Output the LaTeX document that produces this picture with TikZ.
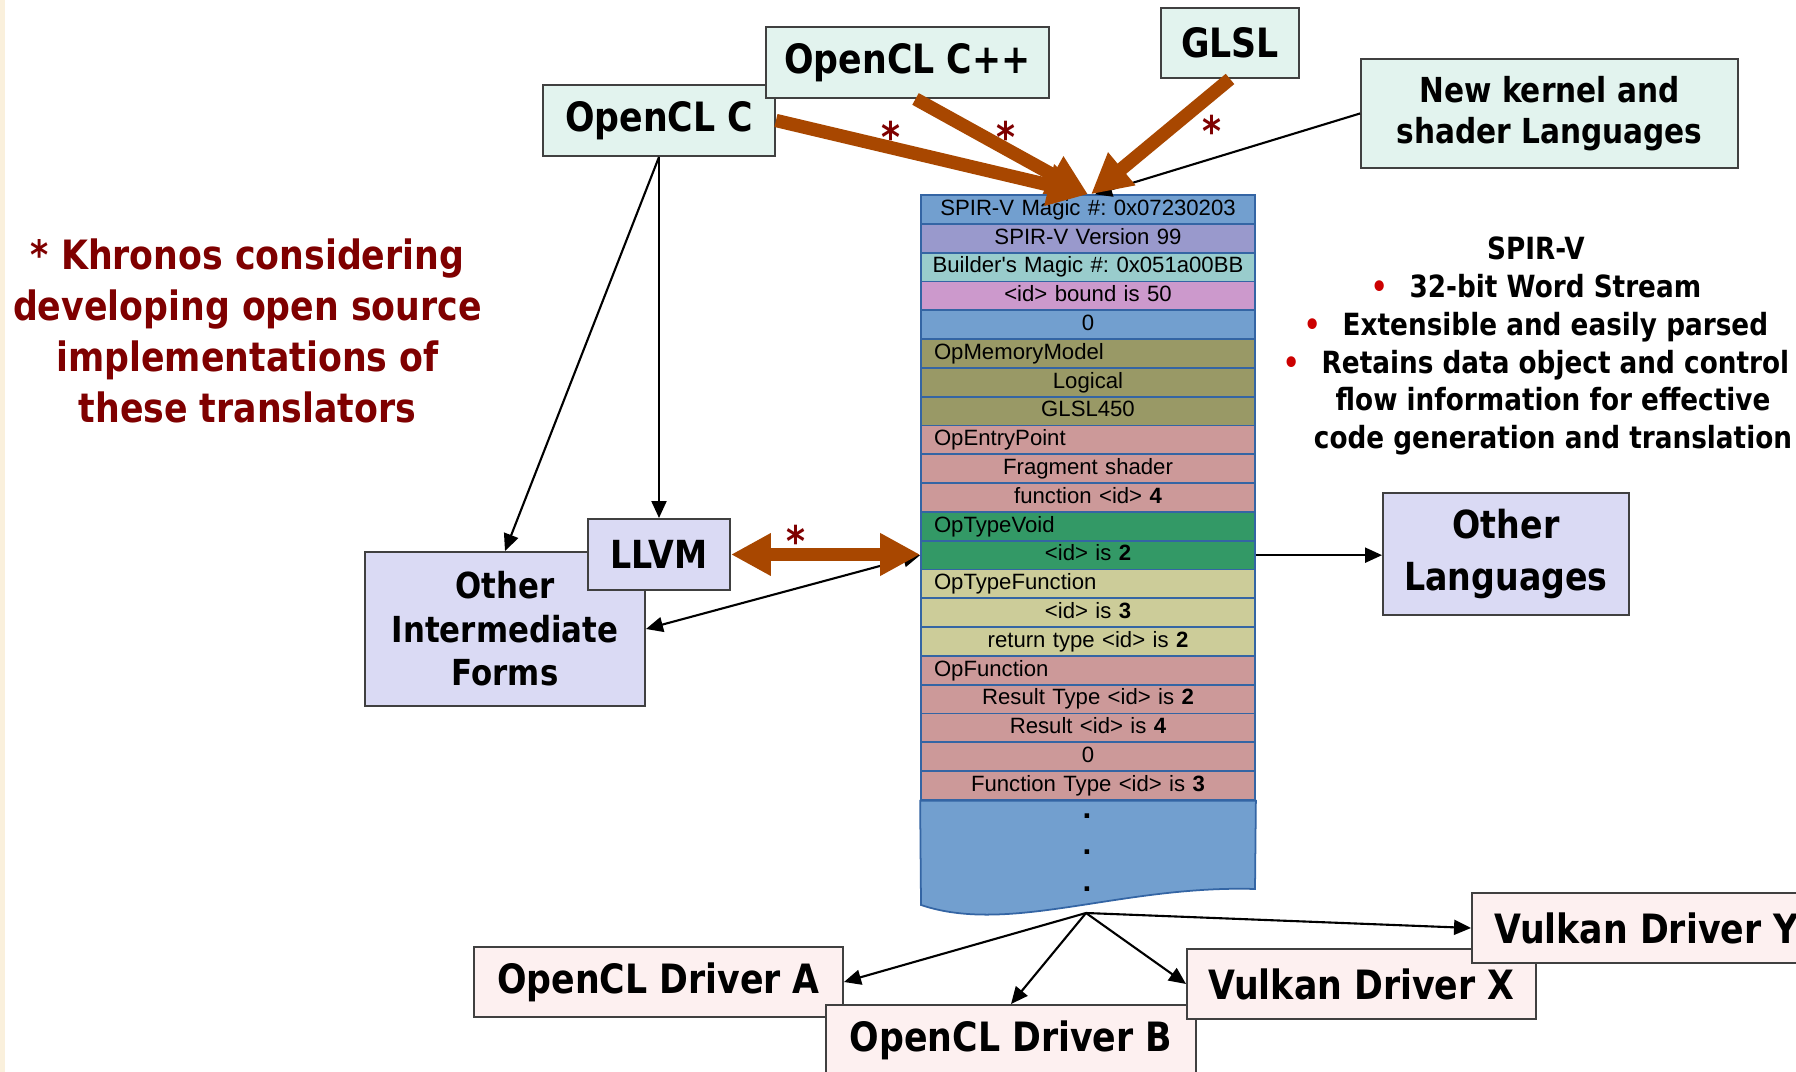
\documentclass[tikz,border=0pt]{standalone}
\usepackage{fontspec}
\setmainfont{DejaVu Sans}[FakeStretch=0.86]
\newfontfamily\tabfont{Liberation Sans}
\usetikzlibrary{arrows.meta, positioning, calc}
\definecolor{spirblue}{HTML}{729FCF}
\definecolor{spirpurple}{HTML}{9999CC}
\definecolor{spirteal}{HTML}{99CCCC}
\definecolor{spirpink}{HTML}{CC99CC}
\definecolor{spirolive}{HTML}{999966}
\definecolor{spirrose}{HTML}{CC9999}
\definecolor{spirgreen}{HTML}{339966}
\definecolor{spirkhaki}{HTML}{CCCC99}
\definecolor{spirline}{HTML}{3465A4}
\definecolor{langfill}{HTML}{E2F3EE}
\definecolor{irfill}{HTML}{DADAF4}
\definecolor{drvfill}{HTML}{FDF0F0}
\definecolor{boxline}{HTML}{404040}
\definecolor{kharrow}{HTML}{A84700}
\definecolor{khred}{HTML}{7F0000}
\definecolor{bulletred}{HTML}{CC0000}
\definecolor{stripcream}{HTML}{FAF0DC}
\newcommand{\bulletmark}{\textcolor{bulletred}{\textbullet}\hspace{0.22cm}}
\newcommand{\leftcell}[1]{\makebox[3.26cm][l]{\hspace*{0.09cm}#1}}

\begin{document}
\begin{tikzpicture}[
    >=Stealth,
    box/.style={
        draw=boxline, line width=0.55pt, minimum height=0.71cm,
        inner sep=0pt, align=center,
        font=\bfseries\fontsize{11.5}{14}\selectfont
    },
    langbox/.style={box, fill=langfill},
    irbox/.style={box, fill=irfill},
    drvbox/.style={box, fill=drvfill, minimum height=0.70cm},
    tabrow/.style={
        rectangle, draw=spirline, line width=0.5pt, anchor=north,
        text width=3.26cm, inner xsep=0.04cm, inner ysep=0pt,
        text height=0.16cm, text depth=0.045cm,
        minimum height=0.288cm, align=center,
        font=\tabfont\fontsize{6.3}{7.5}\selectfont\frenchspacing
    },
    dotmark/.style={font=\tabfont\bfseries\fontsize{9}{9}\selectfont, anchor=base, inner sep=0pt},
    thickarrow/.style={-{Triangle[length=4mm, width=4mm]}, line width=3.8pt, draw=kharrow},
    thinarrow/.style={-{Triangle[length=1.7mm, width=1.5mm]}, line width=0.6pt},
    starmark/.style={font=\bfseries\fontsize{12}{12}\selectfont, text=khred, anchor=base, inner sep=0pt},
    annotation/.style={align=center, inner sep=0pt},
]

\useasboundingbox (0,0) rectangle (17.96,-10.72);
\fill[white] (0,0) rectangle (17.96,-10.72);
\fill[stripcream] (0,0) rectangle (0.05,-10.72);

% ===================================================================
% SPIR-V WORD STREAM
% ===================================================================
\foreach \fc/\txt [count=\i] in {
    spirblue/{SPIR-V Magic \#: 0x07230203},
    spirpurple/{SPIR-V Version 99},
    spirteal/{Builder's Magic \#: 0x051a00BB},
    spirpink/{<id> bound is 50},
    spirblue/{0},
    spirolive/{\leftcell{OpMemoryModel}},
    spirolive/{Logical},
    spirolive/{GLSL450},
    spirrose/{\leftcell{OpEntryPoint}},
    spirrose/{Fragment shader},
    spirrose/{function <id> \textbf{4}},
    spirgreen/{\leftcell{OpTypeVoid}},
    spirgreen/{<id> is \textbf{2}},
    spirkhaki/{\leftcell{OpTypeFunction}},
    spirkhaki/{<id> is \textbf{3}},
    spirkhaki/{return type <id> is \textbf{2}},
    spirrose/{\leftcell{OpFunction}},
    spirrose/{Result Type <id> is \textbf{2}},
    spirrose/{Result <id> is \textbf{4}},
    spirrose/{0},
    spirrose/{Function Type <id> is \textbf{3}}}
    \node[tabrow, fill=\fc] (r\i) at (10.88, {-1.943-0.288*(\i-1)}) {\txt};

% Tail of the stream (document shape)
\filldraw[fill=spirblue, draw=spirline, line width=0.5pt]
    (r21.south west) -- (9.21,-9.05)
    .. controls (10.10,-9.35) and (11.20,-8.85) .. (12.55,-8.89)
    -- (r21.south east) -- cycle;
\foreach \y in {-8.18,-8.54,-8.92}
    \node[dotmark] at (10.87,\y) {.};
\coordinate (tailtip) at (10.86,-9.13);

% ===================================================================
% SOURCE LANGUAGES
% ===================================================================
\node[langbox, minimum width=2.32cm] (oclc) at (6.59,-1.205) {OpenCL C};
\node[langbox, minimum width=2.83cm] (oclcpp) at (9.075,-0.625) {OpenCL C++};
\node[langbox, minimum width=1.38cm, minimum height=0.70cm] (glsl) at (12.30,-0.43) {GLSL};
\node[langbox, minimum width=3.77cm, minimum height=1.09cm,
      font=\bfseries\fontsize{9.8}{11.8}\selectfont] (newlang) at (15.495,-1.135)
    {New kernel and\\shader Languages};

% Translators into SPIR-V
\draw[thinarrow] (newlang.west) -- ([xshift=0.07cm]r1.north);
\draw[thickarrow] (oclc.east) -- (r1.north);
\draw[thickarrow] ([xshift=0.08cm]oclcpp.south) -- (r1.north);
\draw[thickarrow] (glsl.south) -- ([xshift=0.03cm]r1.north);

\node[starmark] (star-c) at (8.91,-1.53) {*};
\node[starmark] (star-cpp) at (10.06,-1.53) {*};
\node[starmark] (star-glsl) at (12.12,-1.47) {*};

% ===================================================================
% INTERMEDIATE FORMS
% ===================================================================
\node[irbox, minimum width=2.80cm, minimum height=1.54cm,
      font=\bfseries\fontsize{10.2}{12.4}\selectfont] (oif) at (5.05,-6.29)
    {Other\\Intermediate\\Forms};
\node[irbox, minimum width=1.42cm, font=\bfseries\fontsize{11}{13}\selectfont]
    (llvm) at (6.59,-5.545) {LLVM};
\node[irbox, minimum width=2.46cm, minimum height=1.22cm,
      font=\bfseries\fontsize{11}{14.8}\selectfont] (otherlang) at (15.06,-5.54)
    {Other\\Languages};

\draw[thinarrow] (oclc.south) -- (llvm.north);
\draw[thinarrow] (oclc.south) -- (oif.north);
\draw[thinarrow, {Triangle[length=1.7mm, width=1.5mm]}-{Triangle[length=1.7mm, width=1.5mm]}]
    (r13.west) -- (oif.east);
\draw[thickarrow, {Triangle[length=4mm, width=4mm]}-{Triangle[length=4mm, width=4mm]}]
    (llvm.east) -- (llvm.east -| r13.west);
\node[starmark] (star-llvm) at (7.96,-5.57) {*};
\draw[thinarrow] (r13.east) -- (r13.east -| otherlang.west);

% ===================================================================
% DRIVERS
% ===================================================================
\node[drvbox, minimum width=3.69cm] (drva) at (6.585,-9.82) {OpenCL Driver A};
\node[drvbox, minimum width=3.70cm] (drvb) at (10.11,-10.40) {OpenCL Driver B};
\node[drvbox, minimum width=3.49cm] (vkx) at (13.615,-9.84) {Vulkan Driver X};
\node[drvbox, minimum width=3.49cm] (vky) at (16.465,-9.28) {Vulkan Driver Y};

\draw[thinarrow] (tailtip) -- (drva.east);
\draw[thinarrow] (tailtip) -- (drvb.north);
\draw[thinarrow] (tailtip) -- (vkx.west);
\draw[thinarrow] (tailtip) -- (vky.west);

% ===================================================================
% NOTES
% ===================================================================
\node[annotation, text=khred, font=\bfseries\fontsize{11.5}{14.5}\selectfont]
    (khronos) at (2.475,-3.305)
    {* Khronos considering\\developing open source\\implementations of\\these translators};

\node[annotation, font=\bfseries\fontsize{8.7}{10.8}\selectfont] (spirv) at (15.36,-3.46)
    {SPIR-V\\
     \bulletmark 32-bit Word Stream\\
     \bulletmark Extensible and easily parsed\\
     \bulletmark Retains data object and control\\
     \hspace*{0.34cm}flow information for effective\\
     \hspace*{0.34cm}code generation and translation};

\end{tikzpicture}
\end{document}
